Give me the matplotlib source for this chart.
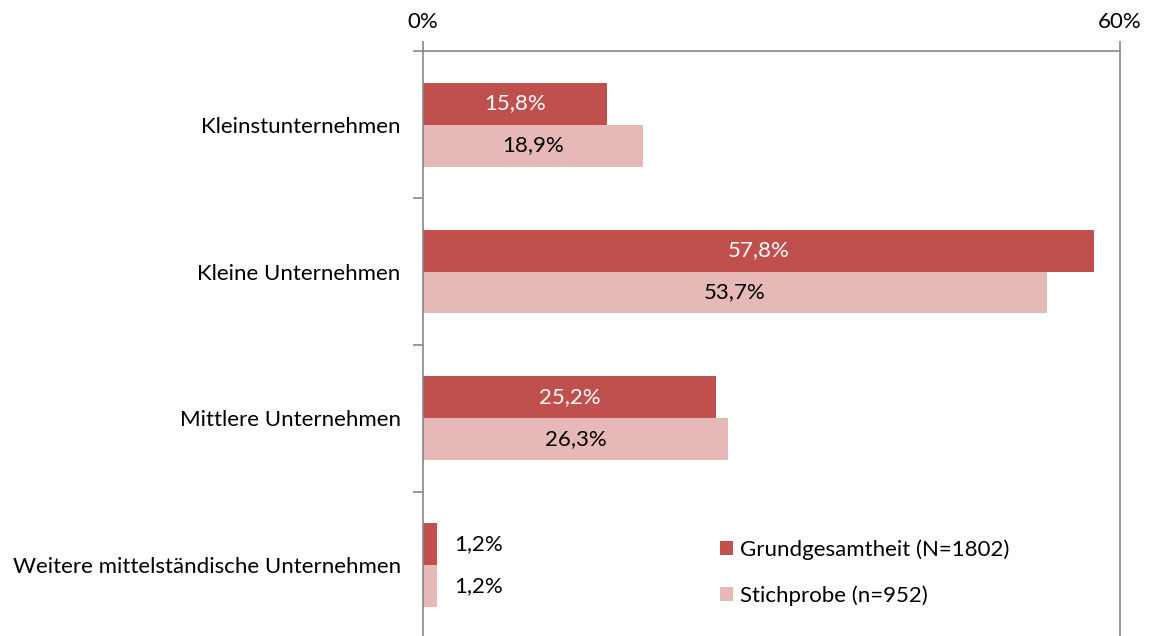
import numpy as np
import matplotlib.pyplot as plt

plt.rcParams['font.family'] = ['Lato', 'DejaVu Sans']

categories = ['Kleinstunternehmen', 'Kleine Unternehmen', 'Mittlere Unternehmen',
              'Weitere mittelständische Unternehmen']
grundgesamtheit = [15.8, 57.8, 25.2, 1.2]
stichprobe = [18.9, 53.7, 26.3, 1.2]
series_labels = ['Grundgesamtheit (N=1802)', 'Stichprobe (n=952)']

dark = '#C0504D'
light = '#E6B9B8'
axis_grey = '#878787'
fs = 16


def fmt(v):
    return ('%.1f%%' % v).replace('.', ',')


def main():
    fig = plt.figure(figsize=(11.5, 6.36), dpi=100)
    ax = fig.add_axes([0.3678, -0.0047, 0.6061, 0.9245])

    y = np.arange(len(categories))
    h = 0.2857
    b1 = ax.barh(y - h / 2, grundgesamtheit, height=h, color=dark, label=series_labels[0])
    b2 = ax.barh(y + h / 2, stichprobe, height=h, color=light, label=series_labels[1])

    # value labels: inside for wide bars, just right of the bar for tiny ones
    for bars, vals, txtcol in [(b1, grundgesamtheit, 'white'), (b2, stichprobe, 'black')]:
        for bar, v in zip(bars, vals):
            yc = bar.get_y() + bar.get_height() / 2
            if v > 5:
                ax.text(v / 2, yc, fmt(v), ha='center', va='center',
                        color=txtcol, fontsize=fs)
            else:
                ax.text(v + 1.5, yc, fmt(v), ha='left', va='center',
                        color='black', fontsize=fs)

    ax.set_xlim(0, 60)
    ax.set_ylim(3.5, -0.5)
    ax.xaxis.tick_top()
    ax.set_xticks([0, 60])
    ax.set_xticklabels(['0%', '60%'], fontsize=fs)
    ax.tick_params(axis='x', direction='out', length=7, width=1.2, color=axis_grey, pad=7)

    ax.set_yticks(y)
    ax.set_yticklabels(categories, fontsize=fs)
    ax.set_yticks(np.arange(-0.5, 4, 1), minor=True)
    ax.tick_params(axis='y', which='major', length=0, pad=16)
    ax.tick_params(axis='y', which='minor', length=7, width=1.2, color=axis_grey)

    for side in ['left', 'top', 'right']:
        ax.spines[side].set_color(axis_grey)
        ax.spines[side].set_linewidth(1.2)
    ax.spines['bottom'].set_visible(False)

    ax.legend(loc='upper left', bbox_to_anchor=(0.426, 0.170), frameon=False,
              fontsize=fs, borderpad=0, borderaxespad=0, handlelength=0.6,
              handleheight=0.6, handletextpad=0.3, labelspacing=1.15)

    fig.savefig('out.png', dpi=100)


if __name__ == '__main__':
    main()
